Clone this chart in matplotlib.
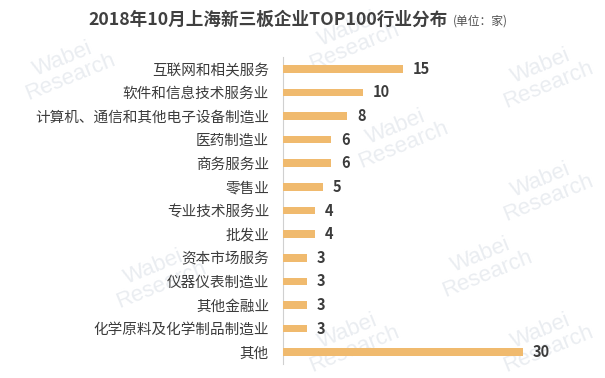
import matplotlib
matplotlib.use("Agg")
import matplotlib.pyplot as plt

plt.rcParams['font.family'] = ['Noto Sans CJK SC', 'DejaVu Sans']

# 数据（自上而下）
categories = ["互联网和相关服务", "软件和信息技术服务业", "计算机、通信和其他电子设备制造业",
              "医药制造业", "商务服务业", "零售业", "专业技术服务业", "批发业",
              "资本市场服务", "仪器仪表制造业", "其他金融业", "化学原料及化学制品制造业", "其他"]
counts = [15, 10, 8, 6, 6, 5, 4, 4, 3, 3, 3, 3, 30]

BAR = "#F0BA6E"
TXT = "#3C3C3C"

fig = plt.figure(figsize=(6.05, 3.78), dpi=100)
fig.patch.set_facecolor("white")

# 水印（淡色，放在最底层）
marks = [(0.11, 0.82), (0.58, 0.90), (0.90, 0.80), (0.66, 0.64), (0.90, 0.50),
         (0.26, 0.27), (0.80, 0.30), (0.58, 0.10), (0.90, 0.10)]
for mx, my in marks:
    fig.text(mx, my, "Wabei\nResearch", fontsize=16, color="#EAEDF1", rotation=22,
             ha="center", va="center", linespacing=0.9, zorder=-5,
             family=["Liberation Sans", "DejaVu Sans"])

ax = fig.add_axes([283 / 605, 14 / 378, 288 / 605, 307 / 378])
ax.set_facecolor("none")
y = list(range(len(categories)))
ax.barh(y, counts, height=0.32, color=BAR, zorder=3)
ax.set_ylim(len(categories) - 0.5, -0.5)
ax.set_xlim(0, 36)

ax.set_yticks(y)
ax.set_yticklabels(categories, fontsize=10.5, color=TXT)
ax.tick_params(axis="y", length=0, pad=10)
ax.set_xticks([])
for s in ["top", "right", "bottom"]:
    ax.spines[s].set_visible(False)
ax.spines["left"].set_color("#D0D0D0")
ax.spines["left"].set_linewidth(0.8)

for yi, v in zip(y, counts):
    ax.text(v + 1.25, yi, str(v), va="center", ha="left", fontsize=10.5,
            fontweight="bold", color=TXT)

title = fig.text(88 / 605, 1 - 20 / 378, "2018年10月上海新三板企业TOP100行业分布",
                 fontsize=12.7, fontweight="bold", color="#404040", va="center", ha="left")
fig.canvas.draw()
bb = title.get_window_extent().transformed(fig.transFigure.inverted())
fig.text(bb.x1 + 6 / 605, 1 - 21 / 378, "(单位：家)", fontsize=8.5, color="#505050",
         va="center", ha="left")

fig.savefig("out.png", dpi=100)
